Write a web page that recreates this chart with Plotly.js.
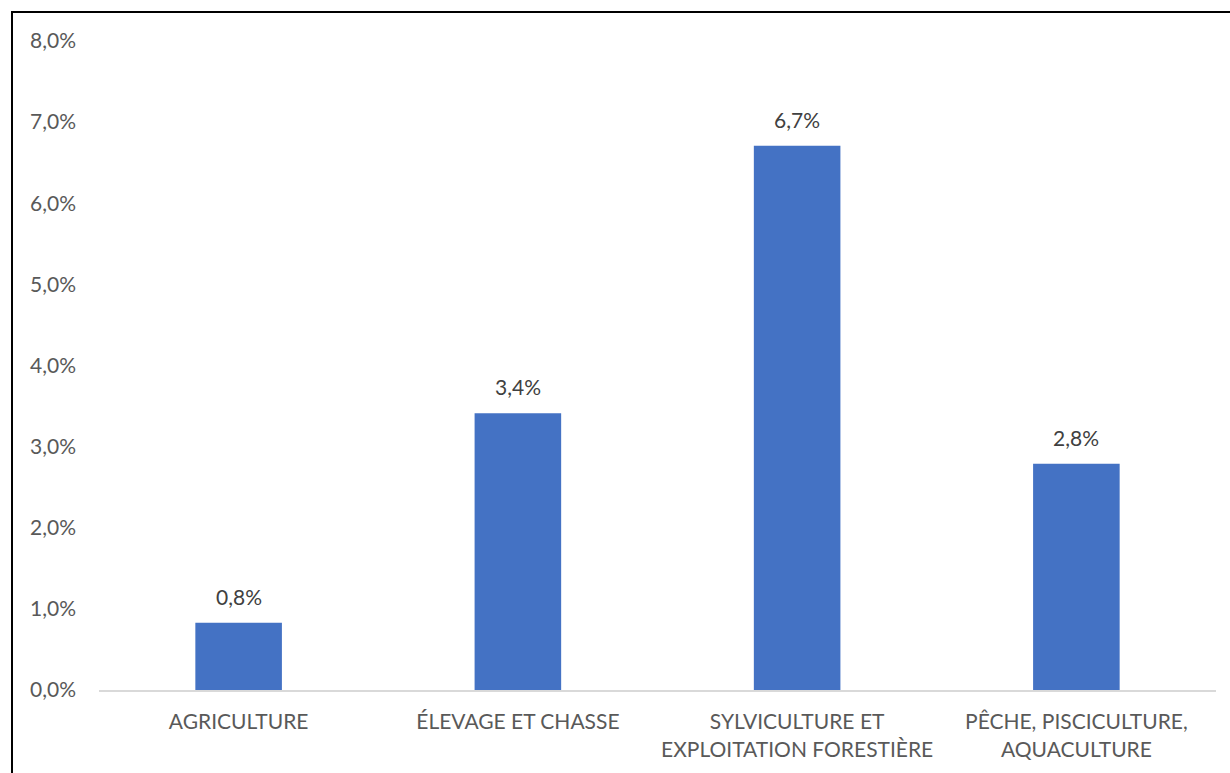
<!DOCTYPE html>
<html>
<head>
<meta charset="utf-8">
<script src="https://cdn.plot.ly/plotly-3.0.1.min.js"></script>
<style>html,body{margin:0;padding:0;background:#fff;}#chart{width:1230px;height:773px;}</style>
</head>
<body>
<div id="chart"></div>
<script>
const categories = ["AGRICULTURE", "ÉLEVAGE ET CHASSE", "SYLVICULTURE ET<br>EXPLOITATION FORESTIÈRE", "PÊCHE, PISCICULTURE,<br>AQUACULTURE"];
const values = [0.83, 3.41, 6.71, 2.79];
const labels = ["0,8%", "3,4%", "6,7%", "2,8%"];
const tickValues = [0, 1, 2, 3, 4, 5, 6, 7, 8];
const tickLabels = ["0,0%", "1,0%", "2,0%", "3,0%", "4,0%", "5,0%", "6,0%", "7,0%", "8,0%"];

const FONT = "Lato, 'Open Sans', sans-serif";
const FS = 21;

const trace = {
  type: "bar",
  x: categories,
  y: values,
  marker: { color: "#4472C4" },
  hoverinfo: "none"
};

const annotations = categories.map((c, i) => ({
  x: c, y: values[i], xref: "x", yref: "y",
  text: labels[i], showarrow: false, yanchor: "bottom", yshift: 12,
  font: { family: FONT, size: FS, color: "#404040" }
}));

const L = 99, R = 1216, T = 41, B = 690;
const px2x = p => (p - L) / (R - L);
const px2y = p => (B - p) / (B - T);

const layout = {
  width: 1230, height: 773,
  margin: { l: L, r: 1230 - R, t: T, b: 773 - B },
  paper_bgcolor: "#ffffff", plot_bgcolor: "#ffffff",
  showlegend: false,
  bargap: 0.69,
  font: { family: FONT, size: FS, color: "#595959" },
  xaxis: {
    type: "category",
    showgrid: false, zeroline: false,
    showline: true, linecolor: "#d9d9d9", linewidth: 2,
    ticks: "", tickfont: { family: FONT, size: FS, color: "#595959" },
    ticklabelstandoff: 12, fixedrange: true
  },
  yaxis: {
    range: [0, 8], showgrid: false, zeroline: false, showline: false,
    tickmode: "array", tickvals: tickValues, ticktext: tickLabels,
    ticks: "", ticklabelstandoff: 22,
    tickfont: { family: FONT, size: FS, color: "#595959" }, fixedrange: true
  },
  annotations: annotations,
  shapes: [{
    type: "rect", xref: "paper", yref: "paper",
    x0: px2x(12), x1: px2x(1260), y0: px2y(800), y1: px2y(12),
    line: { color: "#000000", width: 2 }, fillcolor: "rgba(0,0,0,0)", layer: "above"
  }]
};

Plotly.newPlot("chart", [trace], layout, { displayModeBar: false, staticPlot: true });
</script>
</body>
</html>
